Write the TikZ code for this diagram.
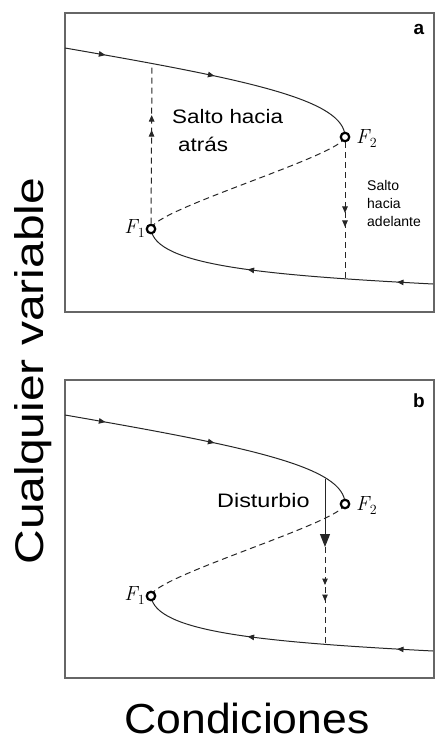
\documentclass[tikz,border=0pt]{standalone}
\usepackage{fontspec}
\setmainfont{Liberation Sans}
\newfontfamily\lmr{Latin Modern Roman}
\usetikzlibrary{arrows.meta,decorations.markings}
\newcommand{\foldname}[1]{{\lmr\itshape F}\kern0.5pt\raisebox{-4.5pt}{\lmr\fontsize{14}{15}\selectfont #1}}
\tikzset{
  curve/.style={line width=1pt, draw=black!85},
  jump/.style={line width=1pt, draw=black!85, dash pattern=on 6pt off 4pt},
  panel/.style={line width=1.5pt, draw=black!60},
  fold/.style={circle, draw=black, line width=2.2pt, fill=white, inner sep=0pt, minimum size=8.5pt},
  smalltip/.tip={Triangle[length=6.5pt,width=5.5pt]},
  marks2/.style 2 args={postaction={decorate}, decoration={markings,
      mark=at position #1 with {\arrow{smalltip}},
      mark=at position #2 with {\arrow{smalltip}}}},
  label/.style={inner sep=0pt, font=\fontsize{20.5}{22}\selectfont},
  big/.style={inner sep=0pt, font=\fontsize{19.5}{22}\selectfont},
  small/.style={inner sep=0pt, align=left, font=\fontsize{14}{18}\selectfont},
  tag/.style={inner sep=0pt, font=\fontsize{19}{21}\selectfont\bfseries},
}
\begin{document}
\begin{tikzpicture}[x=1pt,y=-1pt]
\useasboundingbox (0,0) rectangle (436,741);

% ---------------- panel a ----------------
\begin{scope}
  \draw[panel] (65,13) rectangle (434,312);
  \coordinate (a-start) at (65,48);
  \coordinate (a-end) at (433,284);
  \coordinate (a-F2) at (345,137);
  \coordinate (a-F1) at (151,229);
  \coordinate (a-top) at (152,63.4);
  \coordinate (a-bot) at (345,279);
  \draw[curve, marks2={41pt}{152pt}] (a-start) .. controls (250,80) and (345,100) .. (a-F2);
  \draw[jump] (a-F2) .. controls (343,155) and (152,210) .. (a-F1);
  \draw[curve, marks2={36pt}{186pt}] (a-end) .. controls (260,275) and (155,265) .. (a-F1);
  \node[fold] (a-f2) at (a-F2) {};
  \node[fold] (a-f1) at (a-F1) {};
  \draw[jump, marks2={93.6pt}{108.6pt}] (a-f1) -- (a-top);
  \draw[jump, marks2={70.6pt}{84.6pt}] (a-f2) -- (a-bot);
  \node[label, anchor=base west] (a-l2) at (356,143) {\foldname{2}};
  \node[label, anchor=base east] (a-l1) at (145,233) {\foldname{1}};
  \node[big, anchor=base west] (a-back1) at (172,124) {\scalebox{1.15}[1]{Salto hacia}};
  \node[big, anchor=base west] (a-back2) at (178,151) {\scalebox{1.15}[1]{atrás}};
  \node[small, anchor=north west] (a-fwd) at (367,180) {Salto\\hacia\\adelante};
  \node[tag, anchor=base] (a-tag) at (419,35) {a};
\end{scope}

% ---------------- panel b ----------------
\begin{scope}[shift={(0,367)}]
  \draw[panel] (65,13) rectangle (434,311);
  \coordinate (b-start) at (65,48);
  \coordinate (b-end) at (433,284);
  \coordinate (b-F2) at (345,137);
  \coordinate (b-F1) at (151,229);
  \coordinate (b-d1) at (325,112);
  \coordinate (b-d2) at (325,180);
  \coordinate (b-d3) at (325,277);
  \draw[curve, marks2={41pt}{152pt}] (b-start) .. controls (250,80) and (345,100) .. (b-F2);
  \draw[jump] (b-F2) .. controls (343,155) and (152,210) .. (b-F1);
  \draw[curve, marks2={36pt}{186pt}] (b-end) .. controls (260,275) and (155,265) .. (b-F1);
  \node[fold] (b-f2) at (b-F2) {};
  \node[fold] (b-f1) at (b-F1) {};
  \draw[curve, -{Triangle[length=13pt,width=10pt]}] (b-d1) -- (b-d2);
  \draw[jump, marks2={38pt}{54pt}] (b-d2) -- (b-d3);
  \node[label, anchor=base west] (b-l2) at (356,143) {\foldname{2}};
  \node[label, anchor=base east] (b-l1) at (145,233) {\foldname{1}};
  \node[big, anchor=base west] (b-dist) at (217,140) {\scalebox{1.2}[1]{Disturbio}};
  \node[tag, anchor=base] (b-tag) at (419,40) {b};
\end{scope}

% ---------------- axis labels ----------------
\node[inner sep=0pt, rotate=90, anchor=base] (ylab) at (43,371)
  {\fontsize{40}{48}\selectfont\scalebox{1.2}[1]{Cualquier variable}};
\node[inner sep=0pt, anchor=base] (xlab) at (247,733)
  {\fontsize{42}{50}\selectfont\scalebox{1.06}[1]{Condiciones}};
\end{tikzpicture}
\end{document}
